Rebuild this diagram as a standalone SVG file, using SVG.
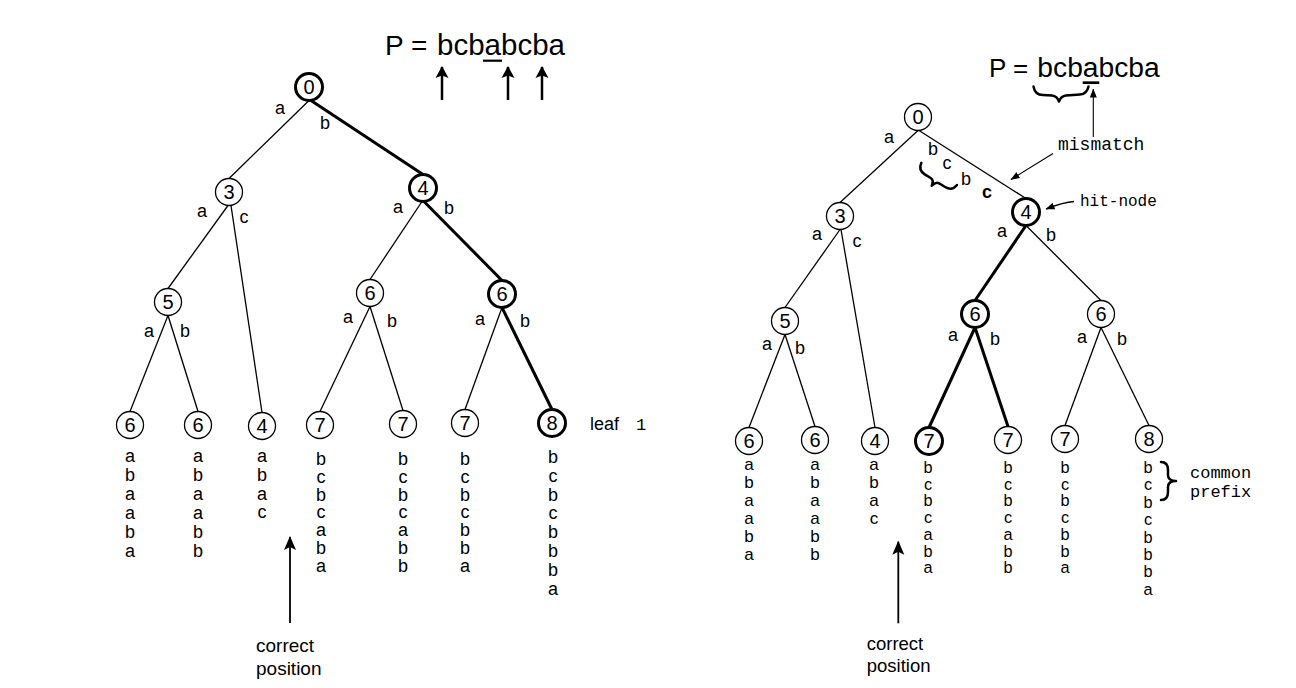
<svg xmlns="http://www.w3.org/2000/svg" width="1296" height="688" viewBox="0 0 1296 688">
<defs>
<marker id="big" markerUnits="userSpaceOnUse" markerWidth="14" markerHeight="14" viewBox="0 0 14 14" refX="13" refY="7" orient="auto">
<path d="M0,1 L14,7 L0,13 L3,7 Z" fill="#000"/>
</marker>
<marker id="up" markerUnits="userSpaceOnUse" markerWidth="12" markerHeight="14" viewBox="0 0 12 14" refX="11" refY="7" orient="auto">
<path d="M0,0.5 L12,7 L0,13.5 L2.5,7 Z" fill="#000"/>
</marker>
<marker id="sm" markerUnits="userSpaceOnUse" markerWidth="9" markerHeight="8" viewBox="0 0 9 8" refX="8.5" refY="4" orient="auto">
<path d="M0,0.5 L9,4 L0,7.5 Z" fill="#000"/>
</marker>
</defs>
<style>
.e{stroke:#000;stroke-width:1.3;fill:none}
.eb{stroke:#000;stroke-width:3;fill:none}
.n circle{fill:#fff;stroke:#000;stroke-width:1.3}
.nb circle{fill:#fff;stroke:#000;stroke-width:3}
.n text,.nb text{font-family:"Liberation Sans",Arial,sans-serif;font-size:20px;text-anchor:middle}
.lb{font-family:"Liberation Sans",Arial,sans-serif;font-size:18px;text-anchor:middle}
.col{font-family:"Liberation Sans",Arial,sans-serif;font-size:18px;text-anchor:middle}
.colr{font-family:"Liberation Sans",Arial,sans-serif;font-size:16.3px;text-anchor:middle}
.mono{font-family:"Liberation Mono","Courier New",monospace}
.sans{font-family:"Liberation Sans",Arial,sans-serif}
.br{stroke:#000;stroke-width:2.5;fill:none;stroke-linecap:round;stroke-linejoin:round}
</style>
<rect width="1296" height="688" fill="#fff"/>

<g id="connectors">
<!-- left tree -->
<line class="e" x1="309" y1="100.5" x2="229" y2="178.5"/>
<line class="eb" x1="311" y1="100.5" x2="423" y2="174.5"/>
<line class="e" x1="228" y1="205.5" x2="168" y2="288.5"/>
<line class="e" x1="231" y1="205.5" x2="262" y2="412.5"/>
<line class="e" x1="422" y1="201.5" x2="370" y2="279.5"/>
<line class="eb" x1="424" y1="201.5" x2="502" y2="280.5"/>
<line class="e" x1="168" y1="315.5" x2="130" y2="411.5"/>
<line class="e" x1="168" y1="315.5" x2="198" y2="411.5"/>
<line class="e" x1="370" y1="306.5" x2="320" y2="411.5"/>
<line class="e" x1="370" y1="306.5" x2="403" y2="410.5"/>
<line class="e" x1="502" y1="307.5" x2="465" y2="409.5"/>
<line class="eb" x1="502" y1="307.5" x2="552" y2="409.5"/>
<!-- right tree -->
<line class="e" x1="918" y1="130.5" x2="840" y2="202.5"/>
<line class="e" x1="919" y1="130.5" x2="1026" y2="198.5"/>
<line class="e" x1="840" y1="229.5" x2="785" y2="307.5"/>
<line class="e" x1="841" y1="229.5" x2="875" y2="427.5"/>
<line class="eb" x1="1026" y1="225.5" x2="975" y2="300.5"/>
<line class="e" x1="1026" y1="225.5" x2="1101" y2="300.5"/>
<line class="e" x1="785" y1="334.5" x2="749" y2="427.5"/>
<line class="e" x1="785" y1="334.5" x2="815" y2="426.5"/>
<line class="eb" x1="975" y1="327.5" x2="929" y2="427.5"/>
<line class="eb" x1="975" y1="327.5" x2="1008" y2="426.5"/>
<line class="e" x1="1101" y1="327.5" x2="1065" y2="425.5"/>
<line class="e" x1="1101" y1="327.5" x2="1149" y2="425.5"/>
</g>

<g id="left-nodes">
<g id="L0" class="nb"><circle cx="309" cy="87" r="13.5"/><text x="309" y="94">0</text></g>
<g id="L3" class="n"><circle cx="229" cy="192" r="13.5"/><text x="229" y="199">3</text></g>
<g id="L4" class="nb"><circle cx="423" cy="188" r="13.5"/><text x="423" y="195">4</text></g>
<g id="L5" class="n"><circle cx="168" cy="302" r="13.5"/><text x="168" y="309">5</text></g>
<g id="L6a" class="n"><circle cx="370" cy="293" r="13.5"/><text x="370" y="300">6</text></g>
<g id="L6b" class="nb"><circle cx="502" cy="294" r="13.5"/><text x="502" y="301">6</text></g>
<g id="L6c" class="n"><circle cx="130" cy="425" r="13.5"/><text x="130" y="432">6</text></g>
<g id="L6d" class="n"><circle cx="198" cy="425" r="13.5"/><text x="198" y="432">6</text></g>
<g id="L4l" class="n"><circle cx="262" cy="426" r="13.5"/><text x="262" y="433">4</text></g>
<g id="L7a" class="n"><circle cx="320" cy="425" r="13.5"/><text x="320" y="432">7</text></g>
<g id="L7b" class="n"><circle cx="403" cy="424" r="13.5"/><text x="403" y="431">7</text></g>
<g id="L7c" class="n"><circle cx="465" cy="423" r="13.5"/><text x="465" y="430">7</text></g>
<g id="L8" class="nb"><circle cx="552" cy="423" r="13.5"/><text x="552" y="430">8</text></g>
</g>

<g id="right-nodes">
<g id="R0" class="n"><circle cx="918" cy="117" r="13.5"/><text x="918" y="124">0</text></g>
<g id="R3" class="n"><circle cx="840" cy="216" r="13.5"/><text x="840" y="223">3</text></g>
<g id="R4" class="nb"><circle cx="1026" cy="212" r="13.5"/><text x="1026" y="219">4</text></g>
<g id="R5" class="n"><circle cx="785" cy="321" r="13.5"/><text x="785" y="328">5</text></g>
<g id="R6a" class="nb"><circle cx="975" cy="314" r="13.5"/><text x="975" y="321">6</text></g>
<g id="R6b" class="n"><circle cx="1101" cy="314" r="13.5"/><text x="1101" y="321">6</text></g>
<g id="R6c" class="n"><circle cx="749" cy="441" r="13.5"/><text x="749" y="448">6</text></g>
<g id="R6d" class="n"><circle cx="815" cy="440" r="13.5"/><text x="815" y="447">6</text></g>
<g id="R4l" class="n"><circle cx="875" cy="441" r="13.5"/><text x="875" y="448">4</text></g>
<g id="R7a" class="nb"><circle cx="929" cy="441" r="13.5"/><text x="929" y="448">7</text></g>
<g id="R7b" class="n"><circle cx="1008" cy="440" r="13.5"/><text x="1008" y="447">7</text></g>
<g id="R7c" class="n"><circle cx="1065" cy="439" r="13.5"/><text x="1065" y="446">7</text></g>
<g id="R8" class="n"><circle cx="1149" cy="439" r="13.5"/><text x="1149" y="446">8</text></g>
</g>

<g id="edge-labels">
<text class="lb" x="280" y="114">a</text><text class="lb" x="325" y="128.5">b</text>
<text class="lb" x="202" y="217">a</text><text class="lb" x="244" y="223">c</text>
<text class="lb" x="398" y="213">a</text><text class="lb" x="449" y="213.5">b</text>
<text class="lb" x="149" y="337">a</text><text class="lb" x="185" y="336.5">b</text>
<text class="lb" x="348" y="323">a</text><text class="lb" x="392" y="326.5">b</text>
<text class="lb" x="480" y="325">a</text><text class="lb" x="525" y="326.5">b</text>

<text class="lb" x="889" y="143">a</text><text class="lb" x="933" y="154.5">b</text>
<text class="lb" x="947" y="169">c</text><text class="lb" x="966" y="184.5">b</text>
<text class="lb" x="987" y="197.5" font-weight="bold" font-size="19">c</text>
<text class="lb" x="817" y="240">a</text><text class="lb" x="857" y="247">c</text>
<text class="lb" x="1002" y="237">a</text><text class="lb" x="1051" y="240.5">b</text>
<text class="lb" x="767" y="350">a</text><text class="lb" x="800" y="353.5">b</text>
<text class="lb" x="953" y="341">a</text><text class="lb" x="995" y="344.5">b</text>
<text class="lb" x="1082" y="343">a</text><text class="lb" x="1122" y="344.5">b</text>
</g>

<g id="left-strings" class="col">
<text x="130" y="462"><tspan x="130">a</tspan><tspan x="130" dy="19">b</tspan><tspan x="130" dy="19">a</tspan><tspan x="130" dy="19">a</tspan><tspan x="130" dy="19">b</tspan><tspan x="130" dy="19">a</tspan></text>
<text x="198" y="462"><tspan x="198">a</tspan><tspan x="198" dy="19">b</tspan><tspan x="198" dy="19">a</tspan><tspan x="198" dy="19">a</tspan><tspan x="198" dy="19">b</tspan><tspan x="198" dy="19">b</tspan></text>
<text x="262" y="462"><tspan x="262">a</tspan><tspan x="262" dy="19">b</tspan><tspan x="262" dy="19">a</tspan><tspan x="262" dy="18">c</tspan></text>
<text x="321" y="465"><tspan x="321">b</tspan><tspan x="321" dy="17.8">c</tspan><tspan x="321" dy="17.8">b</tspan><tspan x="321" dy="17.8">c</tspan><tspan x="321" dy="17.8">a</tspan><tspan x="321" dy="17.8">b</tspan><tspan x="321" dy="17.8">a</tspan></text>
<text x="403" y="465"><tspan x="403">b</tspan><tspan x="403" dy="17.8">c</tspan><tspan x="403" dy="17.8">b</tspan><tspan x="403" dy="17.8">c</tspan><tspan x="403" dy="17.8">a</tspan><tspan x="403" dy="17.8">b</tspan><tspan x="403" dy="17.8">b</tspan></text>
<text x="465" y="465"><tspan x="465">b</tspan><tspan x="465" dy="17.8">c</tspan><tspan x="465" dy="17.8">b</tspan><tspan x="465" dy="17.8">c</tspan><tspan x="465" dy="17.8">b</tspan><tspan x="465" dy="17.8">b</tspan><tspan x="465" dy="17.8">a</tspan></text>
<text x="553" y="463"><tspan x="553">b</tspan><tspan x="553" dy="18.8">c</tspan><tspan x="553" dy="18.8">b</tspan><tspan x="553" dy="18.8">c</tspan><tspan x="553" dy="18.8">b</tspan><tspan x="553" dy="18.8">b</tspan><tspan x="553" dy="18.8">b</tspan><tspan x="553" dy="18.8">a</tspan></text>
</g>

<g id="right-strings" class="colr">
<text x="749" y="470" font-size="17"><tspan x="749">a</tspan><tspan x="749" dy="18">b</tspan><tspan x="749" dy="18">a</tspan><tspan x="749" dy="18">a</tspan><tspan x="749" dy="18">b</tspan><tspan x="749" dy="18">a</tspan></text>
<text x="815" y="470" font-size="17"><tspan x="815">a</tspan><tspan x="815" dy="18">b</tspan><tspan x="815" dy="18">a</tspan><tspan x="815" dy="18">a</tspan><tspan x="815" dy="18">b</tspan><tspan x="815" dy="18">b</tspan></text>
<text x="874" y="470" font-size="17"><tspan x="874">a</tspan><tspan x="874" dy="18">b</tspan><tspan x="874" dy="18">a</tspan><tspan x="874" dy="17.5">c</tspan></text>
<text x="928" y="473"><tspan x="928">b</tspan><tspan x="928" dy="16.7">c</tspan><tspan x="928" dy="16.7">b</tspan><tspan x="928" dy="16.7">c</tspan><tspan x="928" dy="16.7">a</tspan><tspan x="928" dy="16.7">b</tspan><tspan x="928" dy="16.7">a</tspan></text>
<text x="1008" y="473"><tspan x="1008">b</tspan><tspan x="1008" dy="16.7">c</tspan><tspan x="1008" dy="16.7">b</tspan><tspan x="1008" dy="16.7">c</tspan><tspan x="1008" dy="16.7">a</tspan><tspan x="1008" dy="16.7">b</tspan><tspan x="1008" dy="16.7">b</tspan></text>
<text x="1065" y="473"><tspan x="1065">b</tspan><tspan x="1065" dy="16.7">c</tspan><tspan x="1065" dy="16.7">b</tspan><tspan x="1065" dy="16.7">c</tspan><tspan x="1065" dy="16.7">b</tspan><tspan x="1065" dy="16.7">b</tspan><tspan x="1065" dy="16.7">a</tspan></text>
<text x="1148" y="473"><tspan x="1148">b</tspan><tspan x="1148" dy="17.4">c</tspan><tspan x="1148" dy="17.4">b</tspan><tspan x="1148" dy="17.4">c</tspan><tspan x="1148" dy="17.4">b</tspan><tspan x="1148" dy="17.4">b</tspan><tspan x="1148" dy="17.4">b</tspan><tspan x="1148" dy="17.4">a</tspan></text>
</g>

<g id="left-annotations">
<text class="sans" x="385" y="55" font-size="28">P =</text>
<text class="sans" x="437" y="55" font-size="29" textLength="128" lengthAdjust="spacingAndGlyphs">bcbabcba</text>
<line x1="483" y1="60.7" x2="502" y2="60.7" stroke="#000" stroke-width="2.2"/>
<line x1="442" y1="100" x2="442" y2="67" stroke="#000" stroke-width="2.5" marker-end="url(#up)"/>
<line x1="508" y1="100" x2="508" y2="67" stroke="#000" stroke-width="2.5" marker-end="url(#up)"/>
<line x1="542" y1="100" x2="542" y2="67" stroke="#000" stroke-width="2.5" marker-end="url(#up)"/>
<text class="sans" x="590" y="429.5" font-size="18">leaf</text>
<text class="mono" x="641" y="430" font-size="17" text-anchor="middle">1</text>
<line x1="290" y1="623" x2="290" y2="537" stroke="#000" stroke-width="1.8" marker-end="url(#big)"/>
<text class="sans" x="256" y="652" font-size="19">correct</text>
<text class="sans" x="256" y="675" font-size="19">position</text>
</g>

<g id="right-annotations">
<text class="sans" x="989" y="76.7" font-size="26">P =</text>
<text class="sans" x="1037.3" y="76.7" font-size="27" textLength="122.5" lengthAdjust="spacingAndGlyphs">bcbabcba</text>
<line x1="1082.7" y1="82.7" x2="1099.3" y2="82.7" stroke="#000" stroke-width="2.7"/>
<path class="br" d="M1033.5,86.5 Q1035,95 1043,95 L1052,95.5 Q1057,96 1059,101.5 Q1061,96 1066,95.5 L1080,94.5 Q1087,94 1088.5,86.5"/>
<line x1="1093.3" y1="137" x2="1093.3" y2="89" stroke="#000" stroke-width="1.1" marker-end="url(#sm)"/>
<text class="mono" x="1058" y="150" font-size="18">mismatch</text>
<line x1="1053" y1="153.5" x2="1011" y2="179.5" stroke="#000" stroke-width="1.1" marker-end="url(#sm)"/>
<g transform="translate(936,179) rotate(32)">
<path class="br" d="M-21,-6 Q-20,2 -12,2 L-5,2 Q-1,2 0,8 Q1,2 5,2 L12,2 Q20,2 21,-6"/>
</g>
<text class="mono" x="1080" y="205.7" font-size="16">hit-node</text>
<path d="M1074,201.5 Q1064,202 1046,209" stroke="#000" stroke-width="1.4" fill="none" marker-end="url(#sm)"/>
<path class="br" d="M1161,462 Q1168,462 1168,470 L1168,475 Q1168,481 1176,481 Q1168,481 1168,487 L1168,492 Q1168,500 1161,500"/>
<text class="mono" x="1190" y="477.5" font-size="17">common</text>
<text class="mono" x="1190" y="497" font-size="17">prefix</text>
<line x1="898.3" y1="623.3" x2="898.3" y2="541.7" stroke="#000" stroke-width="1.8" marker-end="url(#big)"/>
<text class="sans" x="866.7" y="650" font-size="18.5">correct</text>
<text class="sans" x="866.7" y="671.7" font-size="18.5">position</text>
</g>
</svg>
